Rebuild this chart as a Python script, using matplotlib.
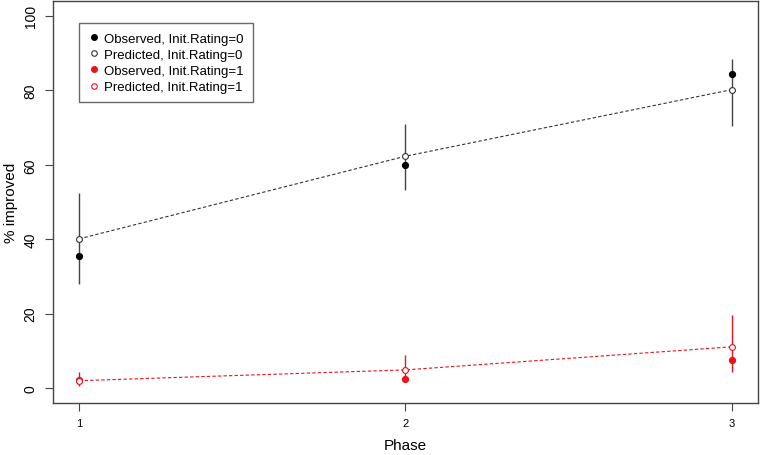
import matplotlib
matplotlib.use("Agg")
import matplotlib.pyplot as plt
from matplotlib.lines import Line2D

plt.rcParams['font.family'] = ['Liberation Sans', 'DejaVu Sans']

phase = [1, 2, 3]
# Init.Rating = 0
obs0 = [35.5, 60.0, 84.5]
pred0 = [40.1, 62.3, 80.2]
lo0 = [28.1, 53.2, 70.5]
hi0 = [52.4, 71.0, 88.4]
# Init.Rating = 1
obs1 = [2.2, 2.4, 7.5]
pred1 = [2.0, 4.9, 11.1]
lo1 = [0.5, 2.0, 4.2]
hi1 = [4.2, 8.8, 19.6]

red = "#e8131b"
fig = plt.figure(figsize=(7.6, 4.56), dpi=100)
ax = fig.add_axes([0.0697, 0.114, 0.9277, 0.8816])

# error bars
ax.vlines(phase, lo0, hi0, color="#444444", lw=1.0)
ax.vlines(phase, lo1, hi1, color=red, lw=1.0)

# predicted lines
ax.plot(phase, pred0, ls=(0, (3, 2)), color="#333333", lw=0.8)
ax.plot(phase, pred1, ls=(0, (3, 2)), color=red, lw=0.8)

ms = 4.2
ax.plot(phase, obs0, "o", color="black", ms=ms)
ax.plot(phase, pred0, "o", mfc="white", mec="#333333", ms=ms, mew=0.8)
ax.plot(phase, obs1, "o", color=red, ms=ms)
ax.plot(phase, pred1, "o", mfc="white", mec=red, ms=ms, mew=0.8)

ax.set_xlim(0.92, 3.08)
ax.set_ylim(-4, 104)
ax.set_xticks(phase)
ax.set_yticks([0, 20, 40, 60, 80, 100])
ax.tick_params(axis="x", labelsize=8, length=6, color="#444444", pad=5)
ax.tick_params(axis="y", labelsize=10, length=6, color="#444444", labelrotation=90, pad=5)
for lab in ax.get_yticklabels():
    lab.set_va("center")
for s in ax.spines.values():
    s.set_color("#444444")
    s.set_linewidth(1.0)

ax.set_xlabel("Phase", fontsize=11, labelpad=7)
ax.set_ylabel("% improved", fontsize=11, labelpad=4)

handles = [
    Line2D([], [], ls="", marker="o", color="black", ms=4),
    Line2D([], [], ls="", marker="o", mfc="white", mec="#333333", ms=4, mew=0.8),
    Line2D([], [], ls="", marker="o", color=red, ms=4),
    Line2D([], [], ls="", marker="o", mfc="white", mec=red, ms=4, mew=0.8),
]
labels = ["Observed, Init.Rating=0", "Predicted, Init.Rating=0",
          "Observed, Init.Rating=1", "Predicted, Init.Rating=1"]
leg = ax.legend(handles, labels, loc="upper left", bbox_to_anchor=(0.037, 0.945),
                fontsize=9.5, frameon=True, fancybox=False, handlelength=0.8,
                handletextpad=0.4, labelspacing=0.3, borderpad=0.7, borderaxespad=0)
leg.get_frame().set_edgecolor("#444444")
leg.get_frame().set_linewidth(1.0)

fig.savefig("out.png", dpi=100)
